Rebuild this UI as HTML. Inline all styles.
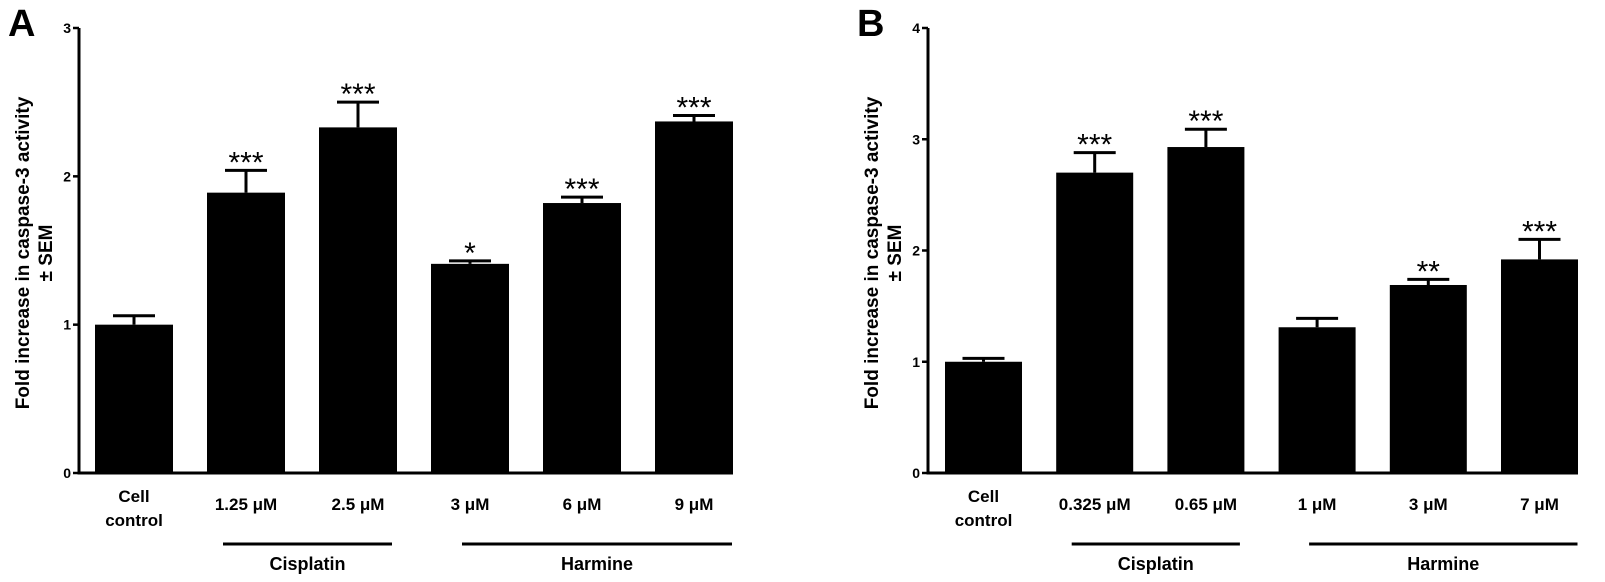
<!DOCTYPE html>
<html><head><meta charset="utf-8"><style>
body{margin:0;background:#fff;}
svg{display:block;font-family:"Liberation Sans",Arial,sans-serif;font-weight:bold;}
</style></head><body>
<svg id="chart" width="1605" height="582" xmlns="http://www.w3.org/2000/svg"></svg>
<script>
const catsA = ["Cell|control","1.25 μM","2.5 μM","3 μM","6 μM","9 μM"];
const valsA = [1.00,1.89,2.33,1.41,1.82,2.37];
const errA = [1.06,2.04,2.50,1.43,1.86,2.41];
const starsA = ["","***","***","*","***","***"];
const ticksA = [0,1,2,3];
const catsB = ["Cell|control","0.325 μM","0.65 μM","1 μM","3 μM","7 μM"];
const valsB = [1.00,2.70,2.93,1.31,1.69,1.92];
const errB = [1.03,2.88,3.09,1.39,1.74,2.10];
const starsB = ["","***","***","","**","***"];
const ticksB = [0,1,2,3,4];
const groups = ["Cisplatin","Harmine"];

const svg = document.getElementById('chart');
const NS = "http://www.w3.org/2000/svg";
function mk(tag, attrs, parent){const e=document.createElementNS(NS,tag);for(const k in attrs)e.setAttribute(k,attrs[k]);(parent||svg).appendChild(e);return e;}

function panel(p){
  const g = mk('g',{});
  
  
  const y0=473, yTop=28, ymax=p.ticks[p.ticks.length-1];
  const ys = v => y0 - (y0-yTop)*v/ymax;
  const xb = i => p.bar0 + i*p.period;
  const L = mk('text',{x:p.ax-71,y:36,'font-size':38},g); L.textContent=p.letter;
  
  
  const ax = mk('line',{x1:p.ax,y1:yTop,x2:p.ax,y2:y0,stroke:'#000','stroke-width':3},g);
  
  
  const bl = mk('line',{x1:p.ax-1.5,y1:y0,x2:xb(5)+p.bw,y2:y0,stroke:'#000','stroke-width':3},g);
  
  
  p.ticks.forEach(t=>{
    mk('line',{x1:p.ax-6,y1:ys(t),x2:p.ax,y2:ys(t),stroke:'#000','stroke-width':2.5},g);
    const tl=mk('text',{x:p.ax-8,y:ys(t)+5,'font-size':14,'text-anchor':'end'},g); tl.textContent=t;
    
    
  });
  const tt=mk('text',{transform:`translate(${p.ax-50},253) rotate(-90)`,'font-size':19,'text-anchor':'middle'},g);
  
  
  const t1=mk('tspan',{x:0,y:0},tt); t1.textContent="Fold increase in caspase-3 activity";
  const t2=mk('tspan',{x:0,y:23},tt); t2.textContent="± SEM";
  p.vals.forEach((v,i)=>{
    const x=xb(i), cx=x+p.bw/2;
    const eb=mk('path',{d:`M${cx},${ys(v)} V${ys(p.err[i])} M${cx-21},${ys(p.err[i])} H${cx+21}`,stroke:'#000','stroke-width':3,fill:'none'},g);
    
    
    const r=mk('rect',{x:x,y:ys(v),width:p.bw,height:y0-ys(v),fill:'#000'},g);
    
    
    if(p.stars[i]){const s=mk('text',{x:cx,y:ys(p.err[i])+2,'font-size':30,'font-weight':'normal','text-anchor':'middle'},g);s.textContent=p.stars[i];
      
      }
    const parts=p.cats[i].split('|');
    const lt=mk('text',{x:cx,'font-size':17,'text-anchor':'middle'},g);
    
    
    if(parts.length>1){const a=mk('tspan',{x:cx,y:502},lt);a.textContent=parts[0];const b=mk('tspan',{x:cx,y:526},lt);b.textContent=parts[1];}
    else {lt.setAttribute('y',510);lt.textContent=parts[0];}
  });
  [[1,2,-23,34],[3,5,-8,38]].forEach((r,k)=>{
    const x1=xb(r[0])+p.bw/2+r[2], x2=xb(r[1])+p.bw/2+r[3];
    const ln=mk('line',{x1:x1,y1:544,x2:x2,y2:544,stroke:'#000','stroke-width':3},g);
    
    
    const gt=mk('text',{x:(x1+x2)/2,y:570,'font-size':18,'text-anchor':'middle'},g);gt.textContent=groups[k];
    
    
  });
}
panel({letter:'A',ax:79,bar0:95,period:112,bw:78,ticks:ticksA,vals:valsA,err:errA,stars:starsA,cats:catsA});
panel({letter:'B',ax:928,bar0:945,period:111.2,bw:77,ticks:ticksB,vals:valsB,err:errB,stars:starsB,cats:catsB});
</script>
</body></html>
